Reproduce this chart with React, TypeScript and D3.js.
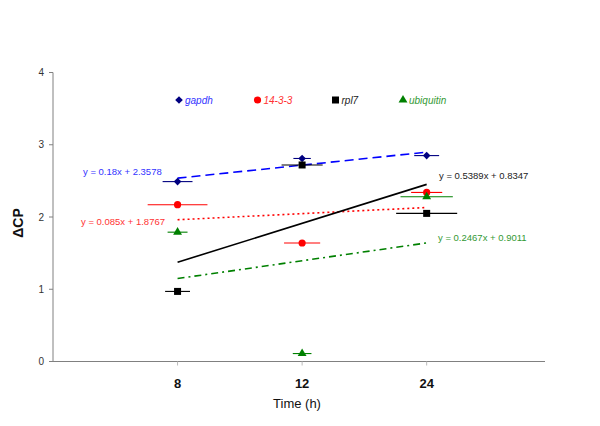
import React from "react";
import * as d3 from "d3";

const categories = ["8", "12", "24"];
const seriesNames = ["gapdh", "14-3-3", "rpl7", "ubiquitin"];
const gapdhValues = [2.49, 2.81, 2.85];
const ywhaValues = [2.17, 1.64, 2.34];
const rpl7Values = [0.97, 2.72, 2.05];
const ubiquitinValues = [1.79, 0.11, 2.28];
// horizontal error (in category units)
const gapdhErr = [0.12, 0.07, 0.1];
const ywhaErr = [0.24, 0.145, 0.125];
const rpl7Err = [0.1, 0.165, 0.245];
const ubiquitinErr = [0.08, 0.075, 0.21];
// trendline coefficients (x = category index 1..3)
const slopes = [0.18, 0.085, 0.5389, 0.2467];
const intercepts = [2.3578, 1.8767, 0.8347, 0.9011];
const equations = ["y = 0.18x + 2.3578", "y = 0.085x + 1.8767", "y = 0.5389x + 0.8347", "y = 0.2467x + 0.9011"];
const yTicks = [0, 1, 2, 3, 4];

const W = 600, H = 426;
const x = d3.scaleLinear().domain([0, 3.95]).range([53, 545]);
const y = d3.scaleLinear().domain([0, 4]).range([361.5, 72.5]);

const FONT = "'Liberation Sans', Arial, sans-serif";

const series = [
  { name: seriesNames[0], values: gapdhValues, err: gapdhErr, marker: "diamond", color: "#000080", lineColor: "#0000FF", textColor: "#3333FF", dash: "9,5", eqX: 83, eqY: 172 },
  { name: seriesNames[1], values: ywhaValues, err: ywhaErr, marker: "circle", color: "#FF0000", lineColor: "#FF0000", textColor: "#FF3333", dash: "2,3", eqX: 81, eqY: 222 },
  { name: seriesNames[2], values: rpl7Values, err: rpl7Err, marker: "square", color: "#000000", lineColor: "#000000", textColor: "#222222", dash: "", eqX: 439, eqY: 176 },
  { name: seriesNames[3], values: ubiquitinValues, err: ubiquitinErr, marker: "triangle", color: "#008000", lineColor: "#008000", textColor: "#339933", dash: "7,4,2,4", eqX: 438, eqY: 238 },
];

function Marker({ type, cx, cy, color }: { type: string; cx: number; cy: number; color: string }) {
  if (type === "diamond") {
    const r = 3.8;
    return <path d={`M${cx},${cy - r}L${cx + r},${cy}L${cx},${cy + r}L${cx - r},${cy}Z`} fill={color} />;
  }
  if (type === "circle") return <circle cx={cx} cy={cy} r={3.6} fill={color} />;
  if (type === "square") return <rect x={cx - 3.5} y={cy - 3.5} width={7} height={7} fill={color} />;
  const s = d3.symbol().type(d3.symbolTriangle).size(34)();
  return <path d={s || ""} transform={`translate(${cx},${cy})`} fill={color} />;
}

const legendX = [179, 257.5, 335.5, 403];

export default function App() {
  return (
    <svg width={W} height={H} style={{ position: "absolute", left: 0, top: 0, background: "#fff" }} fontFamily={FONT}>
      <rect width={W} height={H} fill="#fff" />
      {/* axes */}
      <line x1={53} x2={53} y1={y(4)} y2={y(0)} stroke="#808080" strokeWidth={1} />
      <line x1={53} x2={545} y1={y(0)} y2={y(0)} stroke="#808080" strokeWidth={1.2} />
      {yTicks.map((t) => (
        <g key={t}>
          <line x1={49} x2={53} y1={y(t)} y2={y(t)} stroke="#808080" />
          <text x={44} y={y(t)} dy="0.35em" textAnchor="end" fontSize={10} fill="#333">{t}</text>
        </g>
      ))}
      {categories.map((c, i) => (
        <g key={c}>
          <line x1={x(i + 1)} x2={x(i + 1)} y1={y(0)} y2={y(0) + 4} stroke="#bbb" />
          <text x={x(i + 1)} y={388} textAnchor="middle" fontSize={13} fontWeight="bold" fill="#111">{c}</text>
        </g>
      ))}
      <text x={297} y={408} textAnchor="middle" fontSize={13} fill="#111">Time (h)</text>
      <text transform={`translate(23,223) rotate(-90)`} textAnchor="middle" fontSize={14} fontWeight="bold" fill="#111">ΔCP</text>

      {/* trendlines */}
      {series.map((s, k) => (
        <line key={"t" + k} x1={x(1)} x2={x(3)} y1={y(slopes[k] * 1 + intercepts[k])} y2={y(slopes[k] * 3 + intercepts[k])}
          stroke={s.lineColor} strokeWidth={1.6} strokeDasharray={s.dash || undefined} />
      ))}
      {/* error bars and markers */}
      {series.map((s, k) => (
        <g key={"s" + k}>
          {s.values.map((v, i) => (
            <line key={"e" + i} x1={x(i + 1 - s.err[i])} x2={x(i + 1 + s.err[i])} y1={y(v)} y2={y(v)} stroke={s.color} strokeWidth={1.1} />
          ))}
          {s.values.map((v, i) => (
            <Marker key={"m" + i} type={s.marker} cx={x(i + 1)} cy={y(v)} color={s.color} />
          ))}
        </g>
      ))}
      {/* equations */}
      {series.map((s, k) => (
        <text key={"q" + k} x={s.eqX} y={s.eqY} dy="0.35em" fontSize={9.5} fill={s.textColor}>{equations[k]}</text>
      ))}
      {/* legend */}
      {series.map((s, k) => (
        <g key={"l" + k}>
          <Marker type={s.marker} cx={legendX[k]} cy={100} color={s.color} />
          <text x={legendX[k] + 6} y={100} dy="0.35em" fontSize={10} fontStyle="italic" fill={s.textColor}>{s.name}</text>
        </g>
      ))}
    </svg>
  );
}
